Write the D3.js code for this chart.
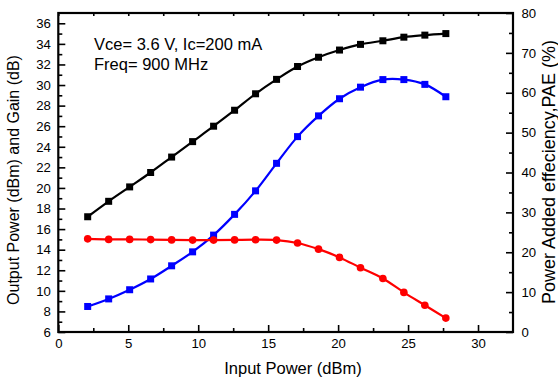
<!DOCTYPE html>
<html>
<head>
<meta charset="utf-8">
<script src="https://cdn.jsdelivr.net/npm/d3@7"></script>
<style>
  html, body { margin: 0; padding: 0; background: #fff; }
  svg { display: block; font-family: "Liberation Sans", Arial, sans-serif; }
</style>
</head>
<body>
<svg id="chart" width="558" height="379"></svg>
<script>
// data
const pin  = [2.1, 3.6, 5.1, 6.6, 8.1, 9.6, 11.1, 12.6, 14.1, 15.6, 17.1, 18.6, 20.1, 21.6, 23.2, 24.7, 26.2, 27.7];
const pout = [17.2, 18.7, 20.1, 21.5, 23.0, 24.5, 26.0, 27.55, 29.15, 30.55, 31.8, 32.7, 33.4, 33.95, 34.3, 34.65, 34.85, 35.0];
const gain = [15.05, 15.0, 15.0, 14.98, 14.95, 14.93, 14.93, 14.95, 14.97, 14.93, 14.65, 14.05, 13.25, 12.25, 11.2, 9.85, 8.6, 7.35];
const pae  = [6.4, 8.3, 10.6, 13.3, 16.6, 20.1, 24.3, 29.5, 35.4, 42.3, 49.0, 54.2, 58.5, 61.4, 63.3, 63.3, 62.1, 59.0];

const xTicks = [0, 5, 10, 15, 20, 25, 30];
const yLeftTicks = [6, 8, 10, 12, 14, 16, 18, 20, 22, 24, 26, 28, 30, 32, 34, 36];
const yRightTicks = [0, 10, 20, 30, 40, 50, 60, 70, 80];
const notes = ['Vce= 3.6 V, Ic=200 mA', 'Freq= 900 MHz'];

const svg = d3.select('#chart');
const L = 58.3, R = 513, T = 13, B = 332;

const x = d3.scaleLinear().domain([0, 32.5]).range([L, R]);
const yL = d3.scaleLinear().domain([6, 37]).range([B, T]);
const yR = d3.scaleLinear().domain([0, 80]).range([B, T]);

// --- axes (ticks inward) ---
const fs = 13.2;
function styleAxis(g) {
  g.select('.domain').remove();
  g.selectAll('line').attr('stroke', '#000').attr('stroke-width', 1.6);
  g.selectAll('text').attr('font-size', fs).attr('fill', '#000').attr('font-family', '"Liberation Sans", Arial, sans-serif');
}

// bottom minor then major
svg.append('g').attr('transform', `translate(0,${B})`)
  .call(d3.axisBottom(x).tickValues(d3.range(2.5, 32.5, 5)).tickSize(-4).tickFormat(''))
  .call(styleAxis);
svg.append('g').attr('transform', `translate(0,${B})`)
  .call(d3.axisBottom(x).tickValues(xTicks).tickSizeInner(-7).tickSizeOuter(0).tickPadding(7))
  .call(styleAxis);

// top ticks
svg.append('g').attr('transform', `translate(0,${T})`)
  .call(d3.axisTop(x).tickValues(d3.range(0, 32.5, 2.5)).tickSize(-3).tickFormat(''))
  .call(styleAxis);

// left
svg.append('g').attr('transform', `translate(${L},0)`)
  .call(d3.axisLeft(yL).tickValues(d3.range(7, 37, 2)).tickSize(-4).tickFormat(''))
  .call(styleAxis);
svg.append('g').attr('transform', `translate(${L},0)`)
  .call(d3.axisLeft(yL).tickValues(yLeftTicks).tickSizeInner(-7).tickSizeOuter(0).tickPadding(7.5))
  .call(styleAxis);

// right
svg.append('g').attr('transform', `translate(${R},0)`)
  .call(d3.axisRight(yR).tickValues(d3.range(5, 80, 10)).tickSize(-4).tickFormat(''))
  .call(styleAxis);
svg.append('g').attr('transform', `translate(${R},0)`)
  .call(d3.axisRight(yR).tickValues(yRightTicks).tickSizeInner(-7).tickSizeOuter(0).tickPadding(8.5))
  .call(styleAxis);

// frame
svg.append('rect')
  .attr('x', L).attr('y', T).attr('width', R - L).attr('height', B - T)
  .attr('fill', 'none').attr('stroke', '#000').attr('stroke-width', 2.2);

// --- series ---
function drawSeries(vals, y, color, marker) {
  const pts = pin.map((p, i) => [x(p), y(vals[i])]);
  svg.append('path')
    .attr('d', d3.line().curve(d3.curveCatmullRom)(pts))
    .attr('fill', 'none').attr('stroke', color).attr('stroke-width', 2.2);
  const g = svg.append('g');
  if (marker === 'square') {
    g.selectAll('rect').data(pts).join('rect')
      .attr('x', d => d[0] - 3.5).attr('y', d => d[1] - 3.5)
      .attr('width', 7).attr('height', 7).attr('fill', color);
  } else {
    g.selectAll('circle').data(pts).join('circle')
      .attr('cx', d => d[0]).attr('cy', d => d[1]).attr('r', 3.8).attr('fill', color);
  }
}
drawSeries(pout, yL, '#000000', 'square');
drawSeries(pae, yR, '#0000ff', 'square');
drawSeries(gain, yL, '#ff0000', 'circle');

// --- annotation ---
svg.selectAll('.note').data(notes).join('text')
  .attr('class', 'note')
  .attr('x', 94).attr('y', (d, i) => 50 + i * 20)
  .attr('font-size', 16.5).attr('fill', '#000')
  .text(d => d);

// --- titles ---
svg.append('text')
  .attr('x', 293).attr('y', 374)
  .attr('text-anchor', 'middle').attr('font-size', 16.5)
  .text('Input Power (dBm)');
svg.append('text')
  .attr('transform', 'translate(18.5,180) rotate(-90)')
  .attr('text-anchor', 'middle').attr('font-size', 16)
  .text('Output Power (dBm) and Gain (dB)');
svg.append('text')
  .attr('transform', 'translate(554.5,172) rotate(-90)')
  .attr('text-anchor', 'middle').attr('font-size', 18)
  .text('Power Added effeciency,PAE (%)');
</script>
</body>
</html>
